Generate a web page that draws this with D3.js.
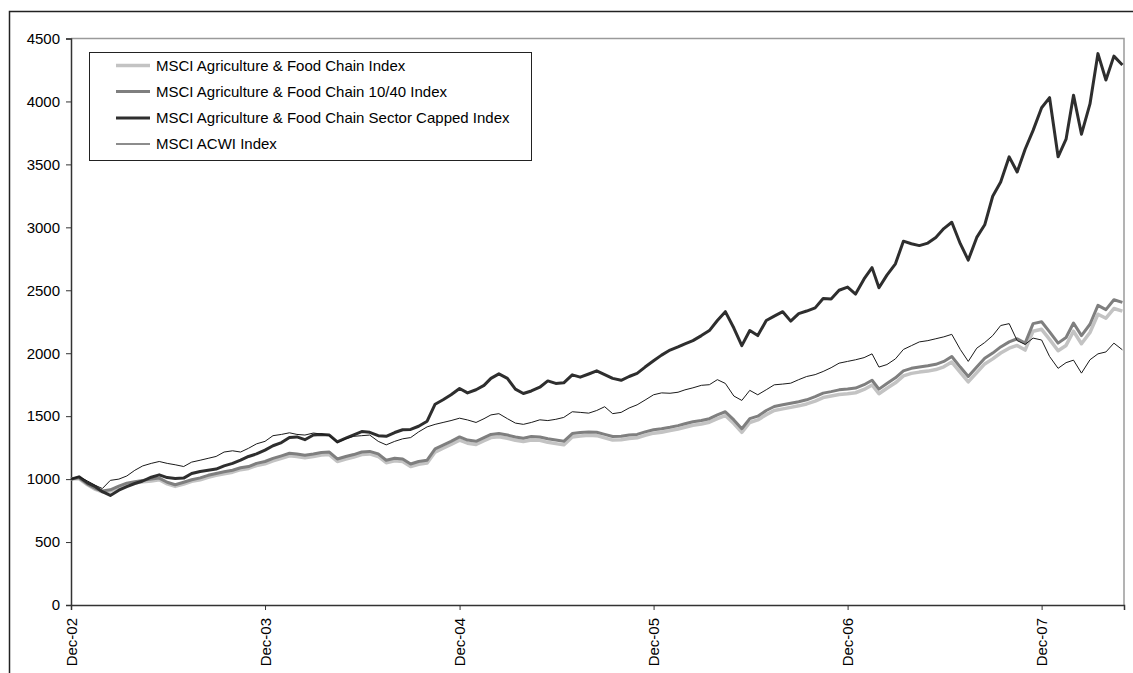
<!DOCTYPE html>
<html><head><meta charset="utf-8">
<script src="https://cdn.jsdelivr.net/npm/d3@7/dist/d3.min.js"></script>
<style>body{margin:0;background:#fff}text{font-family:"Liberation Sans",Arial,sans-serif;fill:#000}</style>
</head><body><svg id="c" width="1133" height="673"></svg>
<script>
const dates = ["2002-12-31",
"2003-01-15","2003-01-31","2003-02-15","2003-02-28","2003-03-15","2003-03-31","2003-04-15","2003-04-30","2003-05-15","2003-05-31","2003-06-15","2003-06-30","2003-07-15","2003-07-31","2003-08-15","2003-08-31","2003-09-15","2003-09-30","2003-10-15","2003-10-31","2003-11-15","2003-11-30","2003-12-15","2003-12-31",
"2004-01-15","2004-01-31","2004-02-15","2004-02-29","2004-03-15","2004-03-31","2004-04-15","2004-04-30","2004-05-15","2004-05-31","2004-06-15","2004-06-30","2004-07-15","2004-07-31","2004-08-15","2004-08-31","2004-09-15","2004-09-30","2004-10-15","2004-10-31","2004-11-15","2004-11-30","2004-12-15","2004-12-31",
"2005-01-15","2005-01-31","2005-02-15","2005-02-28","2005-03-15","2005-03-31","2005-04-15","2005-04-30","2005-05-15","2005-05-31","2005-06-15","2005-06-30","2005-07-15","2005-07-31","2005-08-15","2005-08-31","2005-09-15","2005-09-30","2005-10-15","2005-10-31","2005-11-15","2005-11-30","2005-12-15","2005-12-31",
"2006-01-15","2006-01-31","2006-02-15","2006-02-28","2006-03-15","2006-03-31","2006-04-15","2006-04-30","2006-05-15","2006-05-31","2006-06-15","2006-06-30","2006-07-15","2006-07-31","2006-08-15","2006-08-31","2006-09-15","2006-09-30","2006-10-15","2006-10-31","2006-11-15","2006-11-30","2006-12-15","2006-12-31",
"2007-01-15","2007-01-31","2007-02-15","2007-02-28","2007-03-15","2007-03-31","2007-04-15","2007-04-30","2007-05-15","2007-05-31","2007-06-15","2007-06-30","2007-07-15","2007-07-31","2007-08-15","2007-08-31","2007-09-15","2007-09-30","2007-10-15","2007-10-31","2007-11-15","2007-11-30","2007-12-15","2007-12-31",
"2008-01-15","2008-01-31","2008-02-15","2008-02-29","2008-03-15","2008-03-31","2008-04-15","2008-04-30","2008-05-15","2008-05-31"];

const agriIndex = [1000,
1005,955,918,898,905,935,955,968,978,985,995,962,942,960,982,995,1015,1030,1043,1055,1075,1085,1108,1122,
1145,1165,1185,1180,1170,1180,1192,1195,1140,1160,1175,1195,1200,1180,1130,1145,1140,1100,1118,1128,1215,1245,1275,1310,
1285,1275,1305,1330,1337,1325,1308,1298,1310,1308,1292,1282,1272,1335,1342,1348,1345,1328,1310,1312,1322,1328,1348,1365,
1372,1385,1398,1412,1428,1438,1452,1480,1505,1442,1372,1450,1470,1512,1545,1558,1570,1582,1597,1620,1648,1660,1672,1678,
1686,1712,1748,1678,1722,1765,1820,1840,1850,1858,1870,1892,1930,1848,1772,1846,1915,1955,2002,2040,2062,2025,2175,2190,
2110,2020,2062,2175,2075,2165,2310,2278,2355,2334];

const agri1040 = [1000,
1010,960,925,905,915,945,968,980,990,1000,1008,975,955,975,995,1010,1030,1045,1058,1070,1090,1100,1125,1140,
1165,1185,1205,1200,1190,1200,1212,1215,1160,1180,1195,1215,1220,1200,1150,1165,1160,1120,1140,1150,1240,1270,1300,1335,
1310,1300,1330,1355,1362,1350,1335,1325,1338,1335,1320,1310,1300,1362,1370,1375,1372,1355,1338,1340,1350,1355,1375,1392,
1400,1412,1425,1440,1455,1465,1480,1510,1535,1470,1400,1480,1500,1545,1577,1590,1603,1615,1630,1655,1683,1695,1709,1715,
1723,1750,1785,1715,1760,1805,1860,1880,1890,1900,1912,1935,1974,1890,1815,1890,1960,2001,2050,2090,2115,2080,2235,2250,
2170,2080,2125,2240,2140,2230,2380,2346,2425,2404];

const agriCapped = [1000,
1018,970,940,900,870,912,940,965,985,1015,1034,1012,1005,1008,1045,1061,1070,1080,1105,1125,1150,1180,1200,1230,
1265,1290,1330,1335,1313,1350,1355,1350,1295,1325,1352,1378,1372,1345,1340,1370,1392,1395,1420,1460,1595,1630,1670,1720,
1685,1710,1745,1800,1836,1800,1715,1680,1700,1730,1780,1760,1765,1828,1810,1835,1860,1830,1800,1785,1815,1840,1890,1940,
1985,2025,2050,2075,2100,2140,2180,2260,2330,2200,2060,2180,2140,2260,2295,2330,2255,2315,2335,2360,2435,2430,2500,2525,
2470,2590,2680,2520,2620,2710,2890,2870,2855,2875,2920,2990,3040,2870,2740,2920,3020,3247,3360,3560,3440,3620,3770,3950,
4030,3560,3700,4050,3740,3980,4380,4170,4360,4290];

const acwi = [1000,
1020,985,950,925,990,1000,1025,1070,1105,1125,1140,1125,1114,1100,1135,1150,1165,1180,1215,1225,1215,1245,1280,1300,
1345,1355,1368,1355,1350,1366,1358,1345,1290,1320,1340,1345,1350,1300,1272,1300,1320,1330,1375,1415,1435,1450,1465,1484,
1470,1450,1480,1510,1520,1480,1445,1435,1450,1471,1465,1475,1490,1535,1530,1524,1545,1575,1520,1530,1565,1590,1628,1670,
1685,1682,1690,1709,1725,1745,1750,1790,1760,1660,1625,1705,1670,1710,1749,1755,1762,1790,1815,1830,1855,1885,1921,1935,
1948,1965,1995,1890,1910,1955,2030,2060,2090,2100,2115,2130,2150,2030,1935,2040,2085,2140,2220,2235,2100,2070,2120,2105,
1974,1880,1925,1945,1842,1948,1995,2010,2080,2027];

const seriesNames = ["MSCI Agriculture & Food Chain Index","MSCI Agriculture & Food Chain 10/40 Index","MSCI Agriculture & Food Chain Sector Capped Index","MSCI ACWI Index"];
const yTicks = [0,500,1000,1500,2000,2500,3000,3500,4000,4500];
const xTickDates = ["2002-12-31","2003-12-31","2004-12-31","2005-12-31","2006-12-31","2007-12-31"];

const parse = d3.timeParse("%Y-%m-%d");
const svg = d3.select("#c");
const L = 71, R = 1124, T = 38.5, B = 605;

// outer frame
svg.append("rect").attr("x",9.5).attr("y",11.5).attr("width",1200).attr("height",800)
  .attr("fill","none").attr("stroke","#222").attr("stroke-width",1.5);

const x = d3.scaleTime().domain([parse("2002-12-31"), parse("2008-06-03")]).range([L,R]);
const y = d3.scaleLinear().domain([0,4500]).range([B,T]);

// plot area border (top/right gray)
svg.append("path").attr("d",`M${L},${T}H${R}V${B}`).attr("fill","none").attr("stroke","#9a9a9a").attr("stroke-width",1.5);

// y axis
const ya = svg.append("g").attr("transform",`translate(${L},0)`)
  .call(d3.axisLeft(y).tickValues(yTicks).tickSize(5).tickPadding(6).tickFormat(d3.format("d")));
ya.select(".domain").attr("stroke","#333").attr("stroke-width",1.5);
ya.selectAll(".tick line").attr("stroke","#333");
ya.selectAll("text").style("font-size","15px").attr("fill","#000");

// x axis
const xa = svg.append("g").attr("transform",`translate(0,${B})`)
  .call(d3.axisBottom(x).tickValues(xTickDates.map(parse)).tickSize(5).tickFormat(d3.timeFormat("%b-%y")));
xa.select(".domain").attr("stroke","#333").attr("stroke-width",1.5);
xa.selectAll(".tick line").attr("stroke","#333");
xa.selectAll("text").style("font-size","15px").attr("fill","#000")
  .attr("transform","rotate(-90)").attr("text-anchor","end")
  .attr("x",-13).attr("y",0).attr("dy","0.35em");

const styles = [
  {data: agriIndex, color:"#c3c3c3", w:3.5},
  {data: agri1040, color:"#7f7f7f", w:3},
  {data: agriCapped, color:"#2e2e2e", w:3},
  {data: acwi, color:"#1a1a1a", w:1}
];
const line = d3.line().x(d=>x(d[0])).y(d=>y(d[1]));
const pd = dates.map(parse);
styles.forEach(s=>{
  svg.append("path").datum(pd.map((d,i)=>[d,s.data[i]]))
    .attr("d",line).attr("fill","none").attr("stroke",s.color)
    .attr("stroke-width",s.w).attr("stroke-linejoin","round");
});

// legend
const lg = svg.append("g");
lg.append("rect").attr("x",89.5).attr("y",52.5).attr("width",442).attr("height",108)
  .attr("fill","#fff").attr("stroke","#222").attr("stroke-width",1);
const rowY = [65.5, 91.5, 118, 144];
styles.forEach((s,i)=>{
  lg.append("line").attr("x1",116).attr("x2",150).attr("y1",rowY[i]).attr("y2",rowY[i])
    .attr("stroke",s.color).attr("stroke-width",s.w);
  lg.append("text").attr("x",156).attr("y",rowY[i]).attr("dy","0.35em")
    .style("font-size","15px").text(seriesNames[i]);
});
</script></body></html>
